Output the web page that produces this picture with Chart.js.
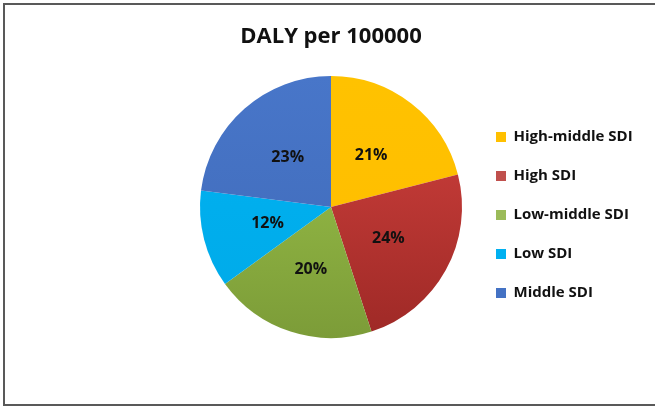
<!DOCTYPE html>
<html>
<head>
<meta charset="utf-8">
<script src="https://cdn.jsdelivr.net/npm/chart.js@4/dist/chart.umd.min.js"></script>
<style>
  html, body { margin: 0; padding: 0; background: #fff; }
  #wrap { width: 655px; height: 408px; }
</style>
</head>
<body>
<div id="wrap"><canvas id="pie-chart" width="655" height="408"></canvas></div>
<script>
// DALY share by SDI group (percent)
const groups = ["High-middle SDI", "High SDI", "Low-middle SDI", "Low SDI", "Middle SDI"];
const shares = [21, 24, 20, 12, 23];
const chartTitle = "DALY per 100000";
// top / bottom shade of each slice
const topColors = ["#FFC200", "#D4433F", "#9EC64B", "#00B2F2", "#4876C9"];
const bottomColors = ["#FFBC00", "#9E2926", "#7C9C38", "#00AAE8", "#3F6AB8"];
const keyColors = ["#FFC000", "#C0504D", "#9BBB59", "#00B0F0", "#4472C4"];

function sliceFill(ctx) {
  const area = ctx.chart.chartArea;
  const i = ctx.dataIndex;
  if (!area) return keyColors[i];
  const g = ctx.chart.ctx.createLinearGradient(0, area.top, 0, area.bottom);
  g.addColorStop(0, topColors[i]);
  g.addColorStop(1, bottomColors[i]);
  return g;
}

// percent labels in the middle of each slice
const sliceLabels = {
  id: 'sliceLabels',
  afterDatasetsDraw(chart) {
    const c = chart.ctx;
    const meta = chart.getDatasetMeta(0);
    c.save();
    c.font = "bold 16px 'Open Sans'";
    c.fillStyle = "#111";
    c.textAlign = "center";
    c.textBaseline = "middle";
    meta.data.forEach((arc, i) => {
      const p = arc.getCenterPoint();
      c.fillText(shares[i] + "%", p.x, p.y);
    });
    c.restore();
  }
};

// frame and heading, heading centred on the whole frame
const frame = {
  id: 'frame',
  beforeDraw(chart) {
    const c = chart.ctx;
    c.save();
    c.strokeStyle = "#595959";
    c.lineWidth = 2;
    c.strokeRect(4, 4, chart.width + 10, chart.height - 7);
    c.font = "bold 22px 'Open Sans'";
    c.fillStyle = "#111";
    c.textAlign = "center";
    c.textBaseline = "middle";
    c.fillText(chartTitle, 331, 37);
    c.restore();
  }
};

new Chart(document.getElementById("pie-chart"), {
  type: 'pie',
  data: {
    labels: groups,
    datasets: [{
      label: chartTitle,
      data: shares,
      backgroundColor: sliceFill,
      borderWidth: 0
    }]
  },
  options: {
    responsive: false,
    animation: false,
    layout: { padding: { top: 76, bottom: 70, left: 190, right: 18 } },
    plugins: {
      title: { display: false },
      legend: {
        position: 'right',
        maxWidth: 165,
        title: { display: true, text: '', font: { size: 16, lineHeight: 1 }, padding: 0 },
        labels: {
          boxWidth: 10,
          boxHeight: 10,
          padding: 24,
          color: '#111',
          font: { family: 'Open Sans', size: 15, weight: 'bold' },
          generateLabels(chart) {
            return groups.map((g, i) => ({
              text: g,
              fillStyle: keyColors[i],
              strokeStyle: keyColors[i],
              fontColor: '#111',
              lineWidth: 0,
              index: i
            }));
          }
        }
      },
      tooltip: { enabled: false }
    }
  },
  plugins: [frame, sliceLabels]
});
</script>
</body>
</html>
